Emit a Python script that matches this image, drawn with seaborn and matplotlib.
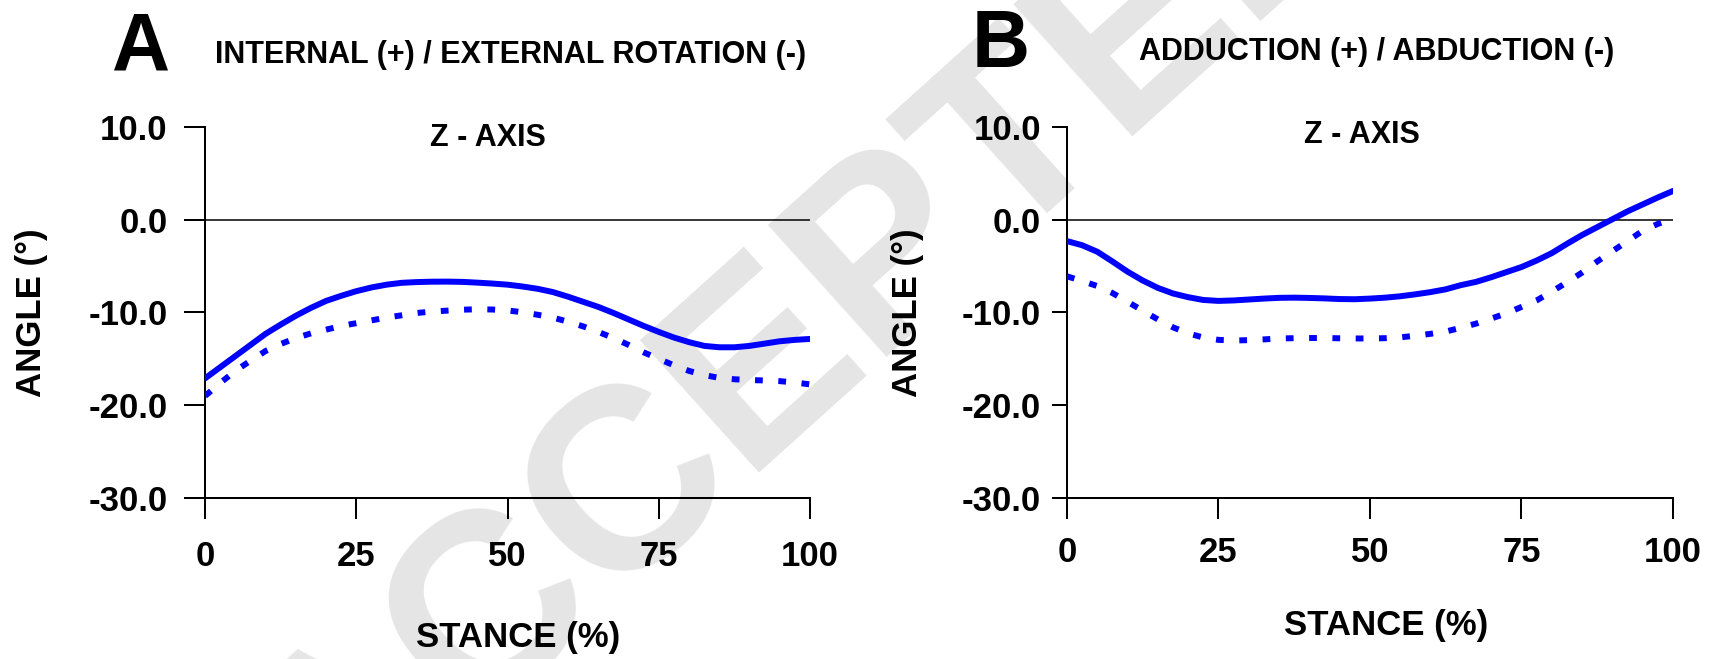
"""
Stance kinematics: rotation and adduction angles over stance (Z axis)
"""

import numpy as np
import pandas as pd
import matplotlib
matplotlib.use("Agg")
import matplotlib.pyplot as plt
import seaborn as sns

# stance (%) samples, every 2.5 %
stance = [0, 2.5, 5, 7.5, 10, 12.5, 15, 17.5, 20, 22.5, 25, 27.5, 30, 32.5, 35, 37.5,
          40, 42.5, 45, 47.5, 50, 52.5, 55, 57.5, 60, 62.5, 65, 67.5, 70, 72.5, 75,
          77.5, 80, 82.5, 85, 87.5, 90, 92.5, 95, 97.5, 100]

# panel A: internal (+) / external rotation (-)
rot_solid = [-17.1, -15.9, -14.7, -13.5, -12.3, -11.3, -10.35, -9.5, -8.75, -8.2, -7.7,
             -7.3, -7.0, -6.8, -6.72, -6.68, -6.67, -6.7, -6.78, -6.88, -7.0,
             -7.2, -7.45, -7.8, -8.3, -8.85, -9.4, -10.05, -10.75, -11.45, -12.1,
             -12.7, -13.2, -13.6, -13.75, -13.75, -13.6, -13.35, -13.1, -12.95, -12.85]
rot_dotted = [-19.0, -17.6, -16.3, -15.2, -14.15, -13.4, -12.75, -12.25, -11.85, -11.45, -11.15,
              -10.85, -10.55, -10.3, -10.05, -9.9, -9.8, -9.7, -9.65, -9.68, -9.78,
              -9.98, -10.25, -10.55, -11.0, -11.5, -12.1, -12.75, -13.5, -14.3, -15.0,
              -15.7, -16.3, -16.75, -17.05, -17.2, -17.28, -17.33, -17.4, -17.55, -17.75]

# panel B: adduction (+) / abduction (-)
add_solid = [-2.3, -2.75, -3.45, -4.5, -5.6, -6.55, -7.35, -7.95, -8.35, -8.65, -8.75,
             -8.7, -8.6, -8.5, -8.42, -8.4, -8.43, -8.48, -8.55, -8.57, -8.5,
             -8.4, -8.25, -8.04, -7.8, -7.5, -7.05, -6.7, -6.2, -5.65, -5.1,
             -4.4, -3.6, -2.6, -1.65, -0.8, 0.05, 0.9, 1.65, 2.4, 3.1]
add_dotted = [-6.1, -6.6, -7.15, -7.9, -8.85, -9.8, -10.75, -11.6, -12.25, -12.7, -12.95,
              -13.02, -12.98, -12.9, -12.8, -12.77, -12.75, -12.75, -12.78, -12.8, -12.8,
              -12.77, -12.68, -12.5, -12.3, -12.05, -11.65, -11.2, -10.65, -10.1, -9.4,
              -8.7, -7.75, -6.75, -5.7, -4.5, -3.4, -2.3, -1.2, -0.45, 0.1]

x_ticks = [0, 25, 50, 75, 100]
y_ticks = [-30, -20, -10, 0, 10]
y_tick_labels = ["-30.0", "-20.0", "-10.0", "0.0", "10.0"]

panel_letters = ["A", "B"]
panel_titles = ["INTERNAL (+) / EXTERNAL ROTATION (-)", "ADDUCTION (+) / ABDUCTION (-)"]

sns.set_style("ticks")
plt.rcParams["font.family"] = ["Liberation Sans", "DejaVu Sans"]
plt.rcParams["font.weight"] = "bold"
plt.rcParams["text.color"] = "black"
plt.rcParams["axes.labelcolor"] = "black"
plt.rcParams["xtick.color"] = "black"
plt.rcParams["ytick.color"] = "black"

BLUE = "#0000ff"
LW = 4.3

fig = plt.figure(figsize=(17.19, 6.59), dpi=100)

# faint watermark behind everything
fig.text(0.473, 0.501, "ACCEPTED", fontsize=186, fontweight="bold", color="#e5e5e5",
         rotation=42, rotation_mode="anchor", ha="center", va="center", zorder=-1)

ax_a = fig.add_axes([0.1193, 0.2443, 0.3520, 0.5630])
ax_b = fig.add_axes([0.6207, 0.2443, 0.3525, 0.5630])

panels = [
    (ax_a, rot_solid, rot_dotted),
    (ax_b, add_solid, add_dotted),
]

for ax, solid, dotted in panels:
    ax.set_facecolor("none")
    df = pd.DataFrame({"stance": stance, "solid": solid, "dotted": dotted})
    ax.axhline(0, color="black", linewidth=1.1, zorder=1)
    sns.lineplot(data=df, x="stance", y="solid", ax=ax, color=BLUE,
                 linewidth=LW, zorder=3)
    sns.lineplot(data=df, x="stance", y="dotted", ax=ax, color=BLUE,
                 linewidth=LW, linestyle=(0, (1.3, 2.6)), dash_capstyle="butt", zorder=3)

    ax.set_xlim(0, 100)
    ax.set_ylim(-30, 10)
    ax.set_xticks(x_ticks)
    ax.set_xticklabels([str(t) for t in x_ticks])
    ax.set_yticks(y_ticks)
    ax.set_yticklabels(y_tick_labels)
    for sp in ["top", "right"]:
        ax.spines[sp].set_visible(False)
    for sp in ["left", "bottom"]:
        ax.spines[sp].set_linewidth(1.45)
        ax.spines[sp].set_color("black")
    ax.tick_params(axis="both", labelsize=25, width=1.45, color="black",
                   labelcolor="black", direction="out")
    ax.set_xlabel("STANCE (%)", fontsize=25, fontweight="bold", va="baseline")
    ax.set_ylabel("ANGLE (°)", fontsize=25, fontweight="bold", va="baseline")

# per-panel tick lengths and label offsets
ax_a.tick_params(axis="y", length=15, pad=12)
ax_a.tick_params(axis="x", length=15, pad=15)
ax_b.tick_params(axis="y", length=10.8, pad=8)
ax_b.tick_params(axis="x", length=15, pad=12)

ax_a.xaxis.set_label_coords(0.517, -0.4016)
ax_b.xaxis.set_label_coords(0.526, -0.3693)
ax_a.yaxis.set_label_coords(-0.271, 0.5)
ax_b.yaxis.set_label_coords(-0.2475, 0.5)

ax_a.text(46.8, 7.96, "Z - AXIS", fontsize=22, fontweight="bold", ha="center", va="baseline")
ax_b.text(48.7, 8.3, "Z - AXIS", fontsize=22, fontweight="bold", ha="center", va="baseline")

# panel letters and titles
fig.text(112 / 1719, 1 - 70 / 659, panel_letters[0], fontsize=58, fontweight="bold", va="baseline")
fig.text(972 / 1719, 1 - 67 / 659, panel_letters[1], fontsize=58, fontweight="bold", va="baseline")
fig.text(215 / 1719, 1 - 63 / 659, panel_titles[0], fontsize=22, fontweight="bold", va="baseline")
fig.text(1139 / 1719, 1 - 60 / 659, panel_titles[1], fontsize=22, fontweight="bold", va="baseline")

fig.savefig("out.png", dpi=100)
